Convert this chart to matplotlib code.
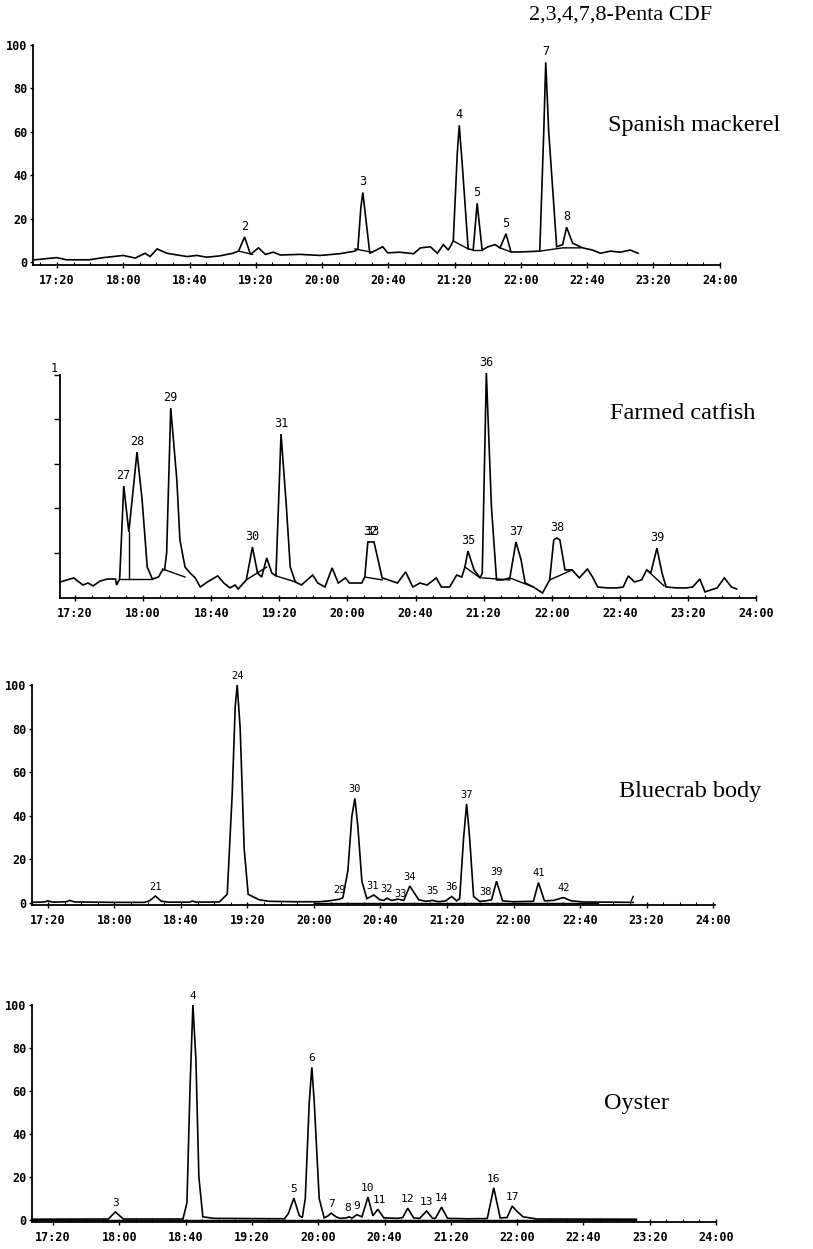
import matplotlib
matplotlib.use("Agg")
import matplotlib.pyplot as plt
from matplotlib.ticker import FixedLocator, MultipleLocator

W, H = 813, 1249
MONO = ["DejaVu Sans Mono"]
SERIF = ["Liberation Serif", "DejaVu Serif"]

# ---------------- data ----------------
tick_times = [17 + 20/60, 18.0, 18 + 40/60, 19 + 20/60, 20.0, 20 + 40/60,
              21 + 20/60, 22.0, 22 + 40/60, 23 + 20/60, 24.0]
tick_labels = ["17:20", "18:00", "18:40", "19:20", "20:00", "20:40",
               "21:20", "22:00", "22:40", "23:20", "24:00"]
y_ticks = [0, 20, 40, 60, 80, 100]
y_labels = ["0", "20", "40", "60", "80", "100"]

title = "2,3,4,7,8-Penta CDF"
sample_names = ["Spanish mackerel", "Farmed catfish", "Bluecrab body", "Oyster"]

# Panel 1: Spanish mackerel (retention time in min, relative abundance %)
mack_t = [17.11, 17.33, 17.43, 17.66, 17.80, 18.00, 18.12, 18.22, 18.27, 18.34,
          18.44, 18.64, 18.74, 18.84, 18.97, 19.10, 19.16, 19.22, 19.28, 19.36,
          19.43, 19.51, 19.58, 19.78, 19.98, 20.18, 20.33, 20.36, 20.39, 20.41,
          20.44, 20.48, 20.61, 20.66, 20.78, 20.92, 20.99, 21.09, 21.16, 21.22,
          21.27, 21.32, 21.36, 21.38, 21.41, 21.47, 21.52, 21.56, 21.61, 21.67,
          21.74, 21.79, 21.85, 21.90, 21.99, 22.19, 22.23, 22.25, 22.28, 22.36,
          22.42, 22.46, 22.52, 22.62, 22.72, 22.80, 22.90, 23.00, 23.10, 23.18]
mack_v = [1.0, 2.0, 1.0, 1.0, 2.0, 3.0, 1.8, 4.0, 2.5, 6.0,
          4.0, 2.5, 3.0, 2.2, 2.8, 4.0, 5.0, 11.5, 3.5, 6.5,
          3.5, 4.5, 3.2, 3.5, 3.0, 3.8, 5.0, 6.0, 25.0, 32.0,
          20.0, 4.0, 7.0, 4.2, 4.5, 3.8, 6.5, 7.0, 4.0, 8.0,
          5.5, 9.7, 50.0, 63.0, 45.0, 6.0, 5.5, 27.0, 5.5, 7.0,
          8.0, 6.5, 13.0, 4.6, 4.6, 5.0, 60.0, 92.0, 60.0, 7.0,
          8.0, 16.0, 8.7, 6.5, 5.5, 4.0, 5.0, 4.5, 5.5, 4.0]
mack_base = [[(19.16, 5.0), (19.30, 3.5)],
             [(20.33, 6.0), (20.50, 4.5)],
             [(21.32, 9.7), (21.47, 6.0)],
             [(21.52, 5.5), (21.61, 5.5)],
             [(21.79, 6.5), (21.90, 4.6)],
             [(22.19, 5.0), (22.42, 6.5), (22.60, 6.5)]]
mack_lab = ["2", "3", "4", "5", "5", "7", "8"]
mack_lt = [19.22, 20.41, 21.38, 21.56, 21.85, 22.25, 22.46]
mack_lv = [11.5, 32.0, 63.0, 27.0, 13.0, 92.0, 16.0]

# Panel 2: Farmed catfish
cat_t = [17.19, 17.22, 17.32, 17.41, 17.46, 17.51, 17.58, 17.65, 17.73, 17.74, 17.77,
         17.81, 17.86, 17.94, 17.99, 18.04, 18.09, 18.15, 18.19, 18.21, 18.23,
         18.27, 18.33, 18.36, 18.41, 18.46, 18.51, 18.56, 18.63, 18.73, 18.79,
         18.85, 18.90, 18.93, 19.01, 19.07, 19.12, 19.16, 19.21, 19.26, 19.30,
         19.35, 19.40, 19.44, 19.49, 19.55, 19.66, 19.71, 19.78, 19.85, 19.91,
         19.98, 20.02, 20.14, 20.17, 20.20, 20.26, 20.34, 20.40, 20.49, 20.57,
         20.64, 20.71, 20.78, 20.87, 20.92, 21.00, 21.07, 21.12, 21.15, 21.18,
         21.24, 21.30, 21.32, 21.36, 21.41, 21.46, 21.52, 21.59, 21.65, 21.70,
         21.74, 21.82, 21.91, 21.98, 22.02, 22.05, 22.08, 22.13, 22.20, 22.27,
         22.35, 22.40, 22.45, 22.54, 22.64, 22.70, 22.75, 22.81, 22.88, 22.93,
         22.97, 23.03, 23.08, 23.12, 23.22, 23.32, 23.38, 23.45, 23.50, 23.62,
         23.69, 23.76, 23.81]
cat_v = [6.8, 7.2, 8.6, 5.4, 6.3, 5.0, 7.2, 8.1, 8.1, 5.4, 8.1,
         50.0, 29.3, 65.3, 43.7, 13.5, 8.1, 9.0, 12.2, 12.2, 19.8,
         85.1, 52.7, 25.7, 13.5, 10.8, 8.6, 4.5, 6.8, 9.5, 6.3,
         4.1, 5.4, 3.6, 7.7, 22.5, 10.8, 9.0, 17.6, 10.8, 9.5,
         73.4, 42.3, 13.5, 6.8, 5.4, 9.9, 6.3, 4.5, 13.1, 6.3,
         8.6, 6.3, 6.3, 9.0, 24.8, 24.8, 8.6, 7.7, 6.3, 11.3,
         4.5, 6.3, 5.4, 8.6, 4.5, 4.5, 9.9, 9.0, 13.5, 20.7,
         12.2, 8.6, 10.8, 100.9, 40.5, 7.7, 7.7, 8.6, 24.8, 16.7,
         6.3, 4.5, 1.8, 7.7, 25.7, 26.6, 25.7, 12.2, 12.2, 8.6,
         12.6, 9.0, 4.5, 4.1, 4.1, 4.5, 9.5, 6.8, 7.7, 12.2,
         10.8, 22.0, 10.8, 4.5, 4.1, 4.1, 4.5, 8.1, 2.3, 4.1,
         8.6, 4.5, 3.6]
cat_base = [[(17.77, 8.1), (18.09, 8.1)],
            [(17.86, 29.3), (17.86, 8.1)],
            [(18.19, 12.6), (18.41, 9.0)],
            [(19.01, 7.7), (19.21, 13.5)],
            [(19.30, 9.5), (19.49, 6.8)],
            [(20.17, 9.0), (20.34, 7.7)],
            [(21.15, 13.5), (21.30, 8.6)],
            [(21.32, 8.6), (21.59, 7.7)],
            [(21.59, 8.6), (21.82, 4.5)],
            [(21.98, 7.7), (22.20, 12.2)],
            [(22.93, 12.2), (23.10, 5.0)]]
cat_lab = ["27", "28", "29", "30", "31", "32", "33", "35", "36", "37", "38", "39"]
cat_lt = [17.81, 17.94, 18.27, 19.07, 19.35, 20.22, 20.24, 21.18, 21.36, 21.65, 22.05, 23.03]
cat_lv = [50.0, 65.3, 85.1, 22.5, 73.4, 24.8, 24.8, 20.7, 100.9, 24.8, 26.6, 22.0]

# Panel 3: Bluecrab body
crab_t = [17.17, 17.30, 17.33, 17.38, 17.52, 17.55, 17.60, 18.00, 18.30, 18.35,
          18.41, 18.47, 18.55, 18.75, 18.78, 18.82, 19.05, 19.13, 19.18, 19.21,
          19.23, 19.26, 19.30, 19.34, 19.45, 19.55, 19.80, 20.05, 20.15, 20.22,
          20.26, 20.29, 20.34, 20.38, 20.41, 20.44, 20.48, 20.53, 20.60, 20.66,
          20.70, 20.73, 20.78, 20.84, 20.90, 20.96, 21.05, 21.12, 21.19, 21.25,
          21.32, 21.38, 21.43, 21.46, 21.50, 21.53, 21.56, 21.60, 21.66, 21.72,
          21.78, 21.83, 21.89, 22.00, 22.20, 22.25, 22.31, 22.40, 22.50, 22.58,
          22.70, 23.20]
crab_v = [0.3, 0.5, 1.0, 0.4, 0.6, 1.2, 0.5, 0.3, 0.3, 1.0,
          3.2, 0.8, 0.4, 0.4, 0.9, 0.4, 0.5, 4.0, 50.0, 90.0,
          100.0, 80.0, 25.0, 4.0, 1.5, 0.8, 0.6, 0.6, 1.0, 1.5,
          1.8, 2.5, 15.0, 40.0, 48.0, 35.0, 10.0, 2.0, 3.7, 1.5,
          1.2, 2.2, 1.2, 1.8, 1.2, 7.8, 1.5, 0.8, 1.2, 0.6,
          1.0, 3.0, 1.0, 2.0, 30.0, 45.5, 30.0, 3.0, 0.8, 1.0,
          1.5, 10.0, 1.0, 0.6, 0.8, 9.4, 1.0, 1.2, 2.5, 1.0,
          0.5, 0.3]
crab_base = [[(20.00, 0.2), (22.85, 0.2)],
             [(23.18, 1.0), (23.20, 3.0)]]
crab_lab = ["21", "24", "29", "30", "31", "32", "33", "34", "35", "36", "37", "38", "39", "41", "42"]
crab_lt = [18.41, 19.23, 20.26, 20.41, 20.59, 20.725, 20.865, 20.96, 21.19, 21.38, 21.53, 21.72, 21.83, 22.25, 22.50]
crab_lv = [3.2, 100.0, 1.8, 48.0, 3.7, 2.2, 0.0, 7.8, 1.2, 3.0, 45.5, 1.0, 10.0, 9.4, 2.5]

# Panel 4: Oyster
oys_t = [17.12, 17.89, 17.96, 18.04, 18.64, 18.68, 18.71, 18.74, 18.77, 18.80,
         18.84, 18.95, 19.66, 19.70, 19.755, 19.81, 19.84, 19.87, 19.91, 19.936,
         19.96, 20.01, 20.06, 20.10, 20.13, 20.18, 20.22, 20.28, 20.31, 20.34,
         20.39, 20.44, 20.50, 20.55, 20.60, 20.66, 20.80, 20.85, 20.90, 20.96,
         21.02, 21.09, 21.15, 21.18, 21.24, 21.30, 21.50, 21.70, 21.765, 21.83,
         21.90, 21.95, 22.00, 22.06, 22.20, 23.20]
oys_v = [0.4, 0.5, 3.8, 0.5, 0.5, 8.0, 60.0, 100.0, 75.0, 20.0,
         1.5, 0.8, 0.6, 3.0, 10.2, 2.0, 1.2, 10.0, 55.0, 71.0,
         55.0, 10.0, 1.0, 2.0, 3.2, 1.5, 0.8, 1.0, 1.5, 0.9,
         2.5, 1.5, 10.7, 2.0, 5.0, 1.0, 0.8, 1.2, 5.5, 1.0,
         0.8, 4.2, 0.8, 0.9, 6.0, 0.8, 0.6, 0.7, 15.0, 1.0,
         1.2, 6.5, 4.0, 1.5, 0.5, 0.4]
oys_base = [[(17.12, 0.2), (23.20, 0.2)]]
oys_lab = ["3", "4", "5", "6", "7", "8", "9", "10", "11", "12", "13", "14", "16", "17"]
oys_lt = [17.96, 18.74, 19.755, 19.936, 20.13, 20.30, 20.39, 20.50, 20.62, 20.90, 21.09, 21.24, 21.765, 21.95]
oys_lv = [3.8, 100.0, 10.2, 71.0, 3.2, 1.5, 2.5, 10.7, 5.0, 5.5, 4.2, 6.0, 15.0, 6.5]

# ---------------- layout ----------------
fig = plt.figure(figsize=(W / 100, H / 100), dpi=100)
fig.patch.set_facecolor("white")


def add_ax(left, right, top, bottom):
    return fig.add_axes([left / W, 1 - bottom / H, (right - left) / W, (bottom - top) / H])


def style(ax, xlim, ylim, ylabels=True):
    ax.set_xlim(*xlim)
    ax.set_ylim(*ylim)
    for s in ("top", "right"):
        ax.spines[s].set_visible(False)
    for s in ("left", "bottom"):
        ax.spines[s].set_linewidth(1.3)
        ax.spines[s].set_color("black")
    ax.xaxis.set_major_locator(FixedLocator(tick_times))
    ax.set_xticklabels(tick_labels, fontfamily=MONO, fontsize=8.5, fontweight="bold")
    ax.xaxis.set_minor_locator(MultipleLocator(1 / 6))
    ax.tick_params(axis="x", which="major", direction="inout", length=5, width=1, pad=4)
    ax.tick_params(axis="x", which="minor", direction="in", length=2, width=0.8)
    if ylabels:
        ax.set_yticks(y_ticks)
        ax.set_yticklabels(y_labels, fontfamily=MONO, fontsize=8.5, fontweight="bold")
        ax.tick_params(axis="y", direction="out", length=2, width=1, pad=2)
    else:
        ax.set_yticks(y_ticks[1:])
        ax.set_yticklabels([])
        ax.tick_params(axis="y", direction="out", length=4, width=1)
    ax.patch.set_alpha(0)


def draw(ax, t, v, base, labs, lt, lv, fs=8.5):
    ax.plot(t, v, color="black", lw=1.2, clip_on=False, solid_joinstyle="miter")
    for seg in base:
        xs = [p[0] for p in seg]
        ys = [p[1] for p in seg]
        ax.plot(xs, ys, color="black", lw=1.0, clip_on=False)
    for s, x, y in zip(labs, lt, lv):
        ax.annotate(s, (x, y), xytext=(0, 3), textcoords="offset points",
                    ha="center", va="bottom", fontfamily=MONO, fontsize=fs,
                    annotation_clip=False)


def ftext(x, y, s, **kw):
    fig.text(x / W, 1 - y / H, s, **kw)


# Panel 1
ax1 = add_ax(33, 720, 45, 265)
style(ax1, (17.092, 24.003), (-1.4, 100))
draw(ax1, mack_t, mack_v, mack_base, mack_lab, mack_lt, mack_lv)

# Panel 2
ax2 = add_ax(60, 756, 375, 598)
style(ax2, (17.186, 24.0), (-0.45, 100), ylabels=False)
draw(ax2, cat_t, cat_v, cat_base, cat_lab, cat_lt, cat_lv)
ftext(54, 368, "1", fontfamily=MONO, fontsize=8.5, ha="center", va="center")

# Panel 3
ax3 = add_ax(32, 715, 685, 905)
style(ax3, (17.173, 24.02), (-0.9, 100))
draw(ax3, crab_t, crab_v, crab_base, crab_lab, crab_lt, crab_lv, fs=7.5)

# Panel 4
ax4 = add_ax(32, 716, 1005, 1222)
style(ax4, (17.122, 24.0), (-0.9, 100))
draw(ax4, oys_t, oys_v, oys_base, oys_lab, oys_lt, oys_lv, fs=8)

# Titles / sample names
ftext(621, 15, title, fontfamily=SERIF, fontsize=16, ha="center", va="center")
name_pos = [(694, 125), (683, 413), (690, 792), (636, 1104)]
for name, (x, y) in zip(sample_names, name_pos):
    ftext(x, y, name, fontfamily=SERIF, fontsize=17.5, ha="center", va="center")

fig.savefig("out.png", dpi=100)
